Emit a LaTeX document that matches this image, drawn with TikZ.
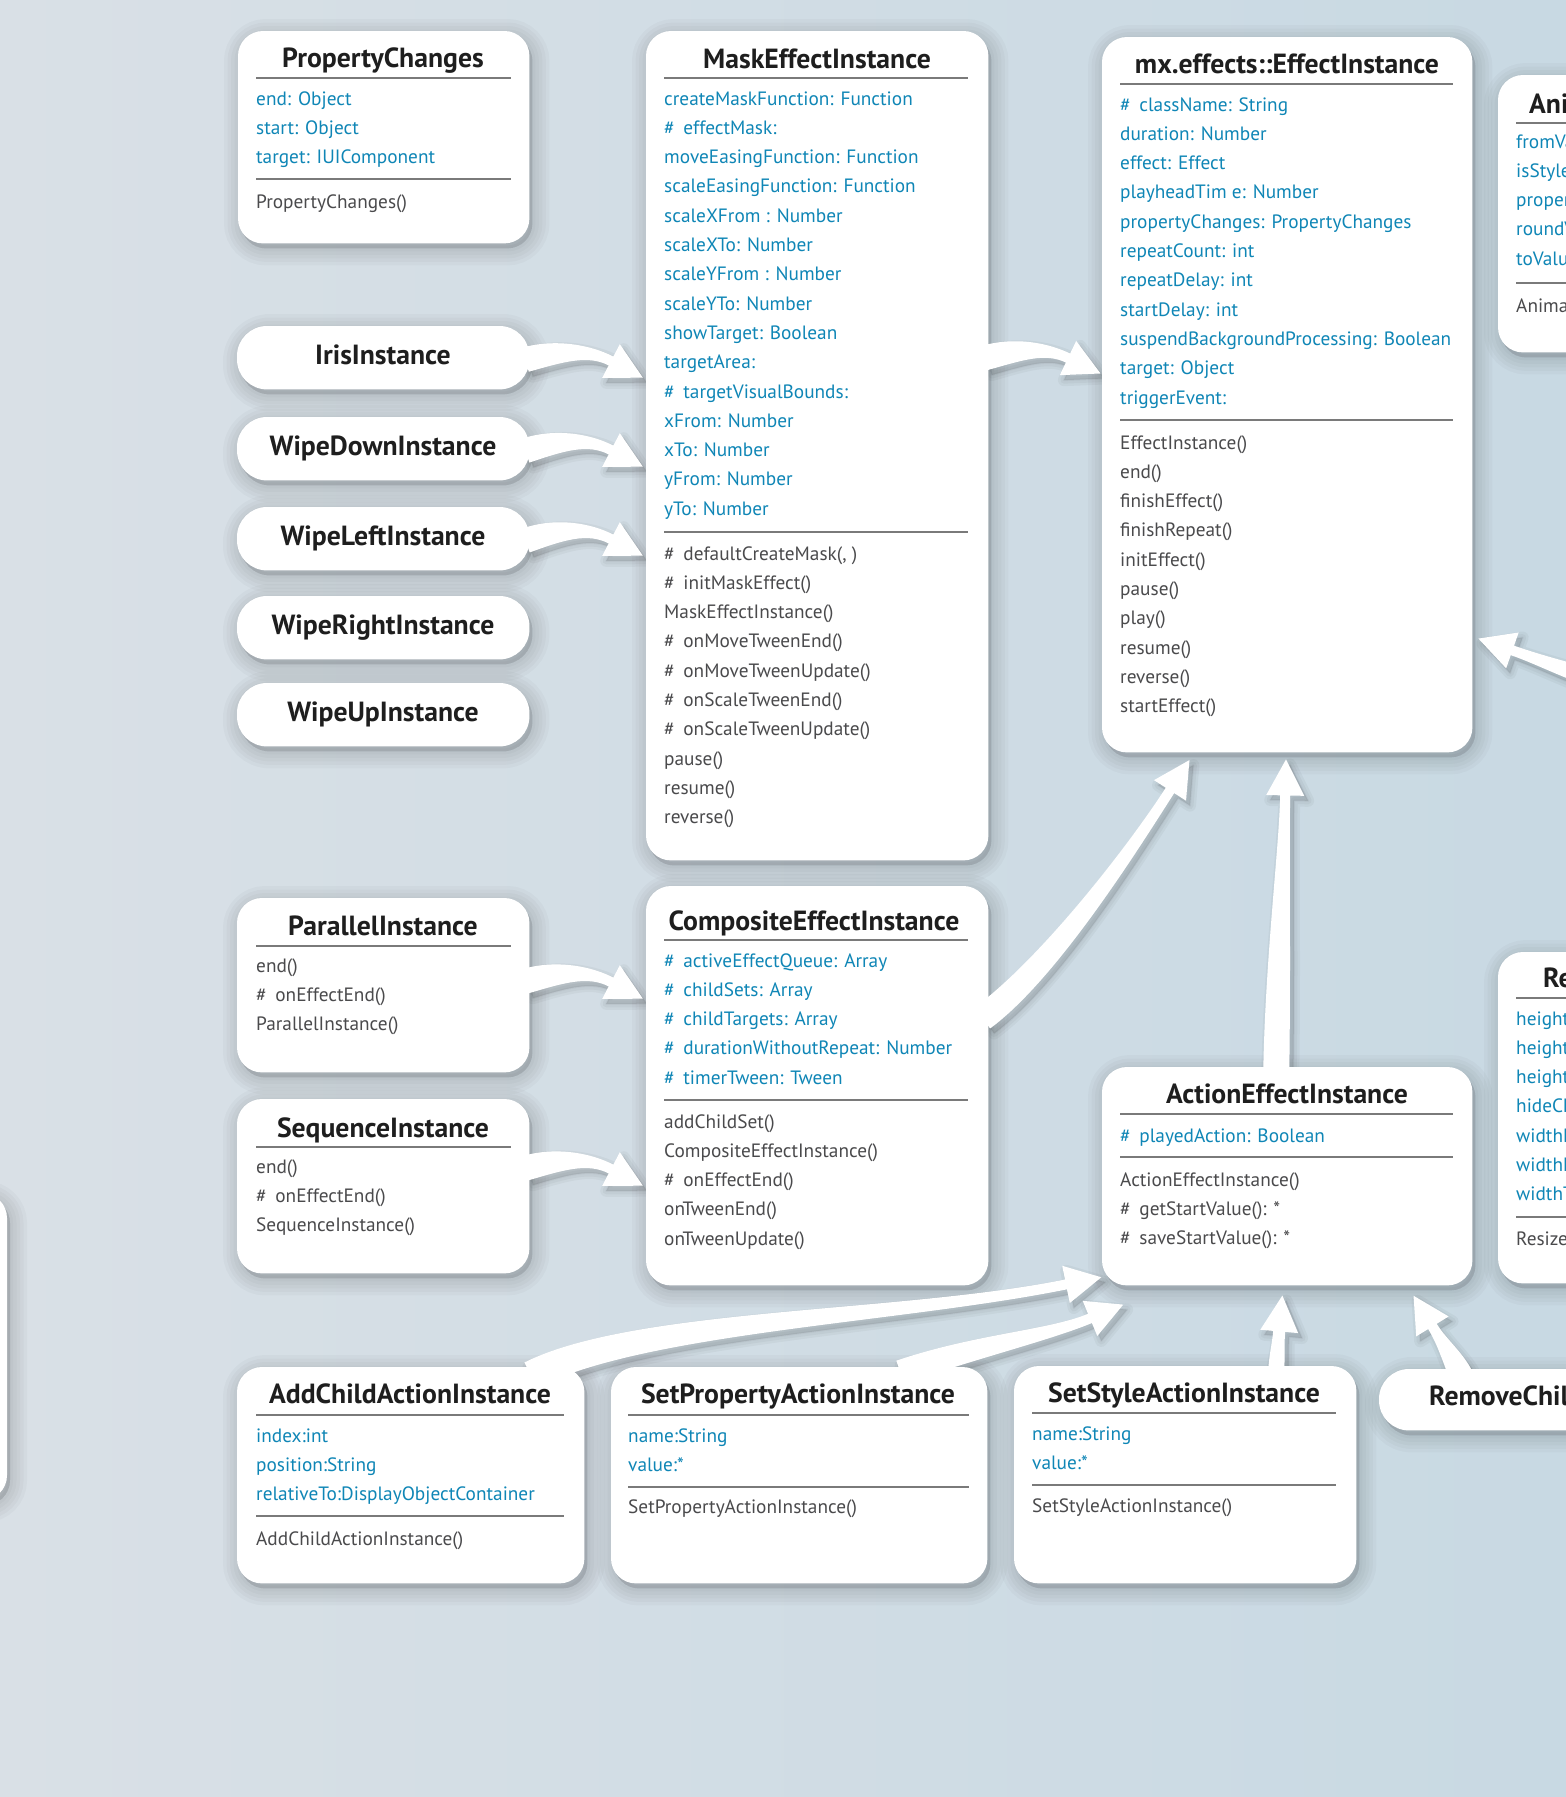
\documentclass[tikz,border=0pt]{standalone}
\usepackage{fontspec}
\setmainfont{PT Sans}
\usetikzlibrary{calc}
\definecolor{bgA}{HTML}{D9E0E6}
\definecolor{bgB}{HTML}{C8D9E3}
\definecolor{attrc}{HTML}{0F86B6}
\definecolor{methc}{HTML}{4A4A4C}
\definecolor{ttlc}{HTML}{1E1E1E}
\definecolor{rulec}{HTML}{7A7A7A}
\tikzset{
 boxn/.style={inner sep=0pt, anchor=north west},
 ttl/.style={font=\fontsize{27.7}{32}\selectfont\bfseries, text=ttlc, inner sep=0pt, anchor=base},
 att/.style={font=\fontsize{19.3}{23}\selectfont, text=attrc, inner sep=0pt, anchor=base west},
 mth/.style={att, text=methc},
 rl/.style={draw=rulec, line width=1.5pt},
}
\newcommand\hh{\#\hspace{0.45em}}
\newcommand\items[5]{\foreach \t [count=\i] in {#5}{\node[#4] (#1-\i) at (#2,{#3+29.3*(\i-1)}) {\t};}}
\newcommand\boxshadow[2]{%
 \begin{scope}[transform canvas={xshift=3pt,yshift=-5pt}]
 \foreach \w in {34,27,20,13,6}{\filldraw[black, opacity=0.022, line width=\w pt, rounded corners=#2]
   (#1.north west) rectangle (#1.south east);}
 \end{scope}}
\newcommand\boxfill[2]{\fill[white, rounded corners=#2] (#1.north west) rectangle (#1.south east);}
\newcommand\arrp{(l0) .. controls (l1) and (l2) .. (l3) -- (hl) -- (tip) -- (hr) -- (r3)
    .. controls (r2) and (r1) .. (r0) -- cycle}
\newcommand\fatarrow[6]{%
 \path (#1) coordinate (p0) (#2) coordinate (p1) (#3) coordinate (p2) (#4) coordinate (p3);
 \path ($(p0)!#5!90:(p1)$) coordinate (l0) ($(p0)!#5!-90:(p1)$) coordinate (r0)
       ($(p3)!#6!-90:(p2)$) coordinate (l3) ($(p3)!#6!90:(p2)$) coordinate (r3);
 \path ($(p1)+(l0)-(p0)$) coordinate (l1) ($(p1)+(r0)-(p0)$) coordinate (r1)
       ($(p2)+(l3)-(p3)$) coordinate (l2) ($(p2)+(r3)-(p3)$) coordinate (r2)
       ($(p3)!36pt!180:(p2)$) coordinate (tip)
       ($(p3)!19pt!-90:(p2)$) coordinate (hl) ($(p3)!19pt!90:(p2)$) coordinate (hr);
 \begin{scope}[transform canvas={xshift=4pt,yshift=-5pt}]
 \foreach \w in {12,7,2}{\filldraw[black, opacity=0.035, line width=\w pt, line join=round] \arrp;}
 \end{scope}
 \fill[white] \arrp;
}
\begin{document}
\begin{tikzpicture}[x=1pt,y=-1pt]
\useasboundingbox (0,0) rectangle (1566,1797);
\shade[left color=bgA, right color=bgB] (0,0) rectangle (1566,1797);

% ---------- box frames (named) ----------
\node[boxn, minimum width=291pt, minimum height=212pt] (pc) at (238,31) {};
\node[boxn, minimum width=342pt, minimum height=829pt] (mask) at (646,31) {};
\node[boxn, minimum width=370pt, minimum height=715pt] (ei) at (1102,37) {};
\node[boxn, minimum width=400pt, minimum height=277pt] (ani) at (1498,75) {};
\node[boxn, minimum width=292pt, minimum height=63pt] (iris) at (237,326) {};
\node[boxn, minimum width=292pt, minimum height=63pt] (wd) at (237,417) {};
\node[boxn, minimum width=292pt, minimum height=63pt] (wl) at (237,507) {};
\node[boxn, minimum width=292pt, minimum height=63pt] (wr) at (237,596) {};
\node[boxn, minimum width=292pt, minimum height=63pt] (wu) at (237,683) {};
\node[boxn, minimum width=292pt, minimum height=174pt] (par) at (237,898) {};
\node[boxn, minimum width=292pt, minimum height=174pt] (seq) at (237,1099) {};
\node[boxn, minimum width=342pt, minimum height=399pt] (comp) at (646,886) {};
\node[boxn, minimum width=370pt, minimum height=218pt] (ae) at (1102,1067) {};
\node[boxn, minimum width=400pt, minimum height=331pt] (rs) at (1498,952) {};
\node[boxn, minimum width=347pt, minimum height=216pt] (ac) at (237,1367) {};
\node[boxn, minimum width=376pt, minimum height=216pt] (sp) at (611,1367) {};
\node[boxn, minimum width=342pt, minimum height=217pt] (ss) at (1014,1366) {};
\node[boxn, minimum width=350pt, minimum height=61pt] (rc) at (1379,1369) {};
\node[boxn, minimum width=300pt, minimum height=307pt, anchor=north east] (lb) at (7,1193) {};
\coordinate (offr) at (1600,680);

% ---------- shadows ----------
\foreach \b in {pc,mask,ei,ani,par,seq,comp,ae,rs,ac,sp,ss,lb}{\boxshadow{\b}{25pt}}
\foreach \b in {iris,wd,wl,wr,wu,rc}{\boxshadow{\b}{30pt}}

% ---------- arrows ----------
\fatarrow{$(iris.east)+(-4,2)$}{560,350}{590,350}{$(mask.north west)+(-35,330)$}{12.5pt}{5pt}
\fatarrow{$(wd.east)+(-4,2)$}{560,439}{590,439}{$(mask.north west)+(-35,419)$}{12.5pt}{5pt}
\fatarrow{$(wl.east)+(-4,2)$}{560,528}{590,528}{$(mask.north west)+(-35,508)$}{12.5pt}{5pt}
\fatarrow{$(par.east)+(-4,-4)$}{560,971}{590,971}{$(comp.north west)+(-35,96)$}{12.5pt}{5pt}
\fatarrow{$(seq.east)+(-4,-18)$}{560,1158}{590,1158}{$(comp.north west)+(-35,283)$}{12.5pt}{5pt}
\fatarrow{$(mask.north east)+(-4,327)$}{1020,348}{1047,348}{$(ei.north west)+(-34,321)$}{12.5pt}{5pt}
\fatarrow{$(comp.north east)+(-6,132)$}{1050,968}{1135,845}{$(ei.south west)+(68,38)$}{13pt}{5pt}
\fatarrow{$(ae.north)+(-11,8)$}{1278,960}{1284,850}{$(ei.south)+(-2,43)$}{13pt}{5pt}
\fatarrow{offr}{1570,672}{1540,660}{$(ei.south east)+(40,-102)$}{9pt}{5pt}
\fatarrow{$(ac.north)+(120,8)$}{640,1320}{900,1318}{$(ae.south west)+(-36,-1)$}{14pt}{5pt}
\fatarrow{$(sp.north)+(101,5)$}{980,1345}{1050,1335}{$(ae.south west)+(-12,33)$}{12pt}{5pt}
\fatarrow{$(ss.north)+(91,6)$}{1277,1355}{1278,1345}{$(ae.south)+(-8,46)$}{8pt}{6pt}
\fatarrow{$(rc.north west)+(83,9)$}{1455,1360}{1442,1342}{$(ae.south east)+(-40,41)$}{12pt}{5pt}

% ---------- box fills ----------
\foreach \b in {pc,mask,ei,ani,par,seq,comp,ae,rs,ac,sp,ss,lb}{\boxfill{\b}{25pt}}
\foreach \b in {iris,wd,wl,wr,wu,rc}{\boxfill{\b}{30pt}}

% ---------- PropertyChanges ----------
\node[ttl] (pc-t) at (383,67) {PropertyChanges};
\draw[rl] (256,78) -- (511,78);
\items{pc-a}{256}{105}{att}{end: Object, start: Object, target: IUIComponent}
\draw[rl] (256,179) -- (511,179);
\items{pc-m}{256}{208}{mth}{PropertyChanges()}

% ---------- MaskEffectInstance ----------
\node[ttl] (mask-t) at (817,68) {MaskEffectInstance};
\draw[rl] (664,78) -- (968,78);
\items{mask-a}{664}{105}{att}{createMaskFunction: Function, \hh effectMask:, moveEasingFunction: Function,
 scaleEasingFunction: Function, scaleXFrom : Number, scaleXTo: Number, scaleYFrom : Number, scaleYTo: Number,
 showTarget: Boolean, targetArea:, \hh targetVisualBounds:, xFrom: Number, xTo: Number, yFrom: Number, yTo: Number}
\draw[rl] (664,532) -- (968,532);
\items{mask-m}{664}{560}{mth}{{\hh defaultCreateMask(, )}, \hh initMaskEffect(), MaskEffectInstance(),
 \hh onMoveTweenEnd(), \hh onMoveTweenUpdate(), \hh onScaleTweenEnd(), \hh onScaleTweenUpdate(),
 pause(), resume(), reverse()}

% ---------- EffectInstance ----------
\node[ttl] (ei-t) at (1287,73) {mx.effects::EffectInstance};
\draw[rl] (1120,84) -- (1453,84);
\items{ei-a}{1120}{111}{att}{\hh className: String, duration: Number, effect: Effect, playheadTim e: Number,
 propertyChanges: PropertyChanges, repeatCount: int, repeatDelay: int, startDelay: int,
 suspendBackgroundProcessing: Boolean, target: Object, triggerEvent:}
\draw[rl] (1120,420) -- (1453,420);
\items{ei-m}{1120}{449}{mth}{EffectInstance(), end(), finishEffect(), finishRepeat(), initEffect(),
 pause(), play(), resume(), reverse(), startEffect()}

% ---------- AnimatePropertyInstance (cut by the edge) ----------
\node[ttl, anchor=base west] (ani-t) at (1529,113) {AnimatePropertyInstance};
\draw[rl] (1516,123) -- (1600,123);
\items{ani-a}{1516}{148}{att}{fromValue, isStyle, property, roundValue, toValue}
\draw[rl] (1516,283) -- (1600,283);
\items{ani-m}{1516}{312}{mth}{AnimatePropertyInstance()}

% ---------- pills ----------
\node[ttl] (iris-t) at (383,364) {IrisInstance};
\node[ttl] (wd-t) at (383,455) {WipeDownInstance};
\node[ttl] (wl-t) at (383,545) {WipeLeftInstance};
\node[ttl] (wr-t) at (383,634) {WipeRightInstance};
\node[ttl] (wu-t) at (383,721) {WipeUpInstance};

% ---------- Parallel / Sequence ----------
\node[ttl] (par-t) at (383,935) {ParallelInstance};
\draw[rl] (256,946) -- (511,946);
\items{par-m}{256}{972}{mth}{end(), \hh onEffectEnd(), ParallelInstance()}
\node[ttl] (seq-t) at (383,1137) {SequenceInstance};
\draw[rl] (256,1147) -- (511,1147);
\items{seq-m}{256}{1173}{mth}{end(), \hh onEffectEnd(), SequenceInstance()}

% ---------- CompositeEffectInstance ----------
\node[ttl] (comp-t) at (814,930) {CompositeEffectInstance};
\draw[rl] (664,940) -- (968,940);
\items{comp-a}{664}{967}{att}{\hh activeEffectQueue: Array, \hh childSets: Array, \hh childTargets: Array,
 \hh durationWithoutRepeat: Number, \hh timerTween: Tween}
\draw[rl] (664,1100) -- (968,1100);
\items{comp-m}{664}{1128}{mth}{addChildSet(), CompositeEffectInstance(), \hh onEffectEnd(), onTweenEnd(), onTweenUpdate()}

% ---------- ActionEffectInstance ----------
\node[ttl] (ae-t) at (1287,1103) {ActionEffectInstance};
\draw[rl] (1120,1114) -- (1453,1114);
\items{ae-a}{1120}{1142}{att}{\hh playedAction: Boolean}
\draw[rl] (1120,1157) -- (1453,1157);
\items{ae-m}{1120}{1186}{mth}{ActionEffectInstance(), \hh getStartValue(): *, \hh saveStartValue(): *}

% ---------- ResizeInstance (cut by the edge) ----------
\node[ttl, anchor=base west] (rs-t) at (1543,987) {ResizeInstance};
\draw[rl] (1516,998) -- (1600,998);
\items{rs-a}{1516}{1025}{att}{heightBy, heightFrom, heightTo, hideChildrenTargets, widthBy, widthFrom, widthTo}
\draw[rl] (1516,1217) -- (1600,1217);
\items{rs-m}{1516}{1245}{mth}{ResizeInstance()}

% ---------- bottom row ----------
\node[ttl] (ac-t) at (410,1403) {AddChildActionInstance};
\draw[rl] (256,1415) -- (564,1415);
\items{ac-a}{256}{1442}{att}{index:int, position:String, relativeTo:DisplayObjectContainer}
\draw[rl] (256,1516) -- (564,1516);
\items{ac-m}{256}{1545}{mth}{AddChildActionInstance()}

\node[ttl] (sp-t) at (798,1403) {SetPropertyActionInstance};
\draw[rl] (628,1415) -- (969,1415);
\items{sp-a}{628}{1442}{att}{name:String, value:*}
\draw[rl] (628,1487) -- (969,1487);
\items{sp-m}{628}{1513}{mth}{SetPropertyActionInstance()}

\node[ttl] (ss-t) at (1184,1402) {SetStyleActionInstance};
\draw[rl] (1032,1413) -- (1336,1413);
\items{ss-a}{1032}{1440}{att}{name:String, value:*}
\draw[rl] (1032,1485) -- (1336,1485);
\items{ss-m}{1032}{1512}{mth}{SetStyleActionInstance()}

\node[ttl, anchor=base west] (rc-t) at (1429,1405) {RemoveChildActionInstance};
\end{tikzpicture}
\end{document}
